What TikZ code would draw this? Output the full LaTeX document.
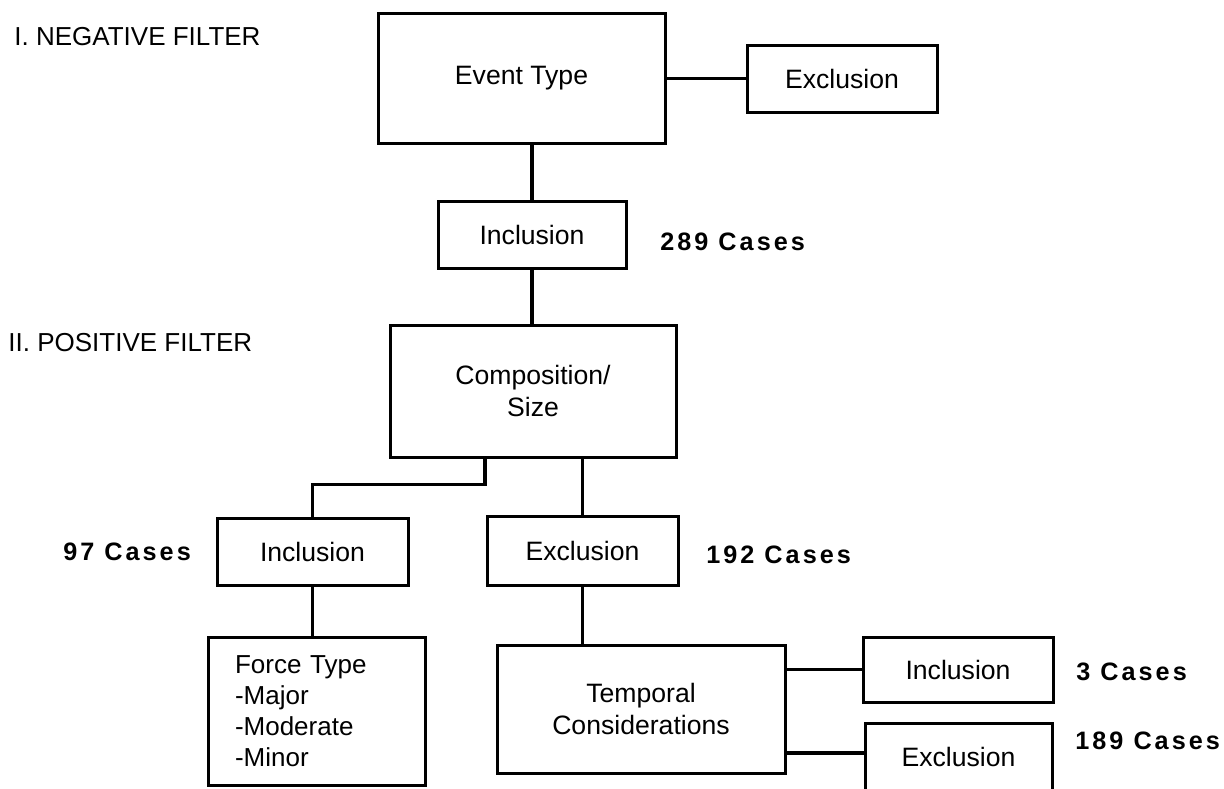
\documentclass[tikz,border=0pt]{standalone}
\usepackage{fontspec}
\setmainfont{Liberation Sans}
\newfontfamily\casefont[LetterSpace=12]{Liberation Sans}
\begin{document}
\begin{tikzpicture}[x=0.5pt,y=-0.5pt,
  box/.style={draw, line width=1.5pt, inner sep=0pt, align=center,
    font=\fontsize{13.3pt}{16pt}\selectfont},
  conn/.style={line width=1.6pt},
  heading/.style={anchor=west, inner sep=0pt, font=\fontsize{13pt}{15pt}\selectfont},
  cases/.style={anchor=west, inner sep=0pt, font=\casefont\bfseries\fontsize{12.6pt}{15pt}\selectfont}]
\useasboundingbox (0,0) rectangle (1224,788);
\clip (0,0) rectangle (1224,788);

\node[heading] (h1) at (14,37) {I. NEGATIVE FILTER};
\node[heading] (h2) at (8,343) {II. POSITIVE FILTER};

\node[box, minimum width=143.5pt, minimum height=65pt] (event) at (521.5,78) {Event Type};
\node[box, minimum width=95pt, minimum height=33.5pt] (excl1) at (842,78.5) {Exclusion};
\node[box, minimum width=94pt, minimum height=33.5pt] (incl1) at (532,234.5) {Inclusion};
\node[box, minimum width=143pt, minimum height=66pt] (comp) at (533,391) {Composition/\\Size};
\node[box, minimum width=95.5pt, minimum height=33.5pt] (incl2) at (312.5,551.5) {Inclusion};
\node[box, minimum width=95.5pt, minimum height=34.5pt] (excl2) at (582.5,550.5) {Exclusion};
\node[box, minimum width=108.5pt, minimum height=74pt, align=left, text width=81.5pt,
  inner xsep=13.5pt, font=\fontsize{13pt}{15.5pt}\selectfont] (force) at (316.5,711)
  {Force Type\\-Major\\-Moderate\\-Minor};
\node[box, minimum width=144pt, minimum height=64pt] (temp) at (641,709) {Temporal\\Considerations};
\node[box, minimum width=95pt, minimum height=32.5pt] (incl3) at (958,669.5) {Inclusion};
\node[box, minimum width=93.5pt, minimum height=33.5pt] (excl3) at (958.5,756.5) {Exclusion};

\node[cases] (c289) at (660,242) {289 Cases};
\node[cases] (c97) at (63,552) {97 Cases};
\node[cases] (c192) at (706,555) {192 Cases};
\node[cases] (c3) at (1076,672) {3 Cases};
\node[cases] (c189) at (1075,741) {189 Cases};

\coordinate (t2) at (641,753);
\draw[conn] (excl1.west) -- (excl1.west -| event.east);
\draw[conn] (incl1.north) -- (incl1.north |- event.south);
\draw[conn] (incl1.south) -- (incl1.south |- comp.north);
\draw[conn] ([xshift=-24pt]comp.south) -- ++(0,-13pt) -| (incl2.north);
\draw[conn] (excl2.north) -- (excl2.north |- comp.south);
\draw[conn] (incl2.south) -- (incl2.south |- force.north);
\draw[conn] (excl2.south) -- (excl2.south |- temp.north);
\draw[conn] (incl3.west) -- (incl3.west -| temp.east);
\draw[conn] (t2 -| temp.east) -- (t2 -| excl3.west);
\end{tikzpicture}
\end{document}
